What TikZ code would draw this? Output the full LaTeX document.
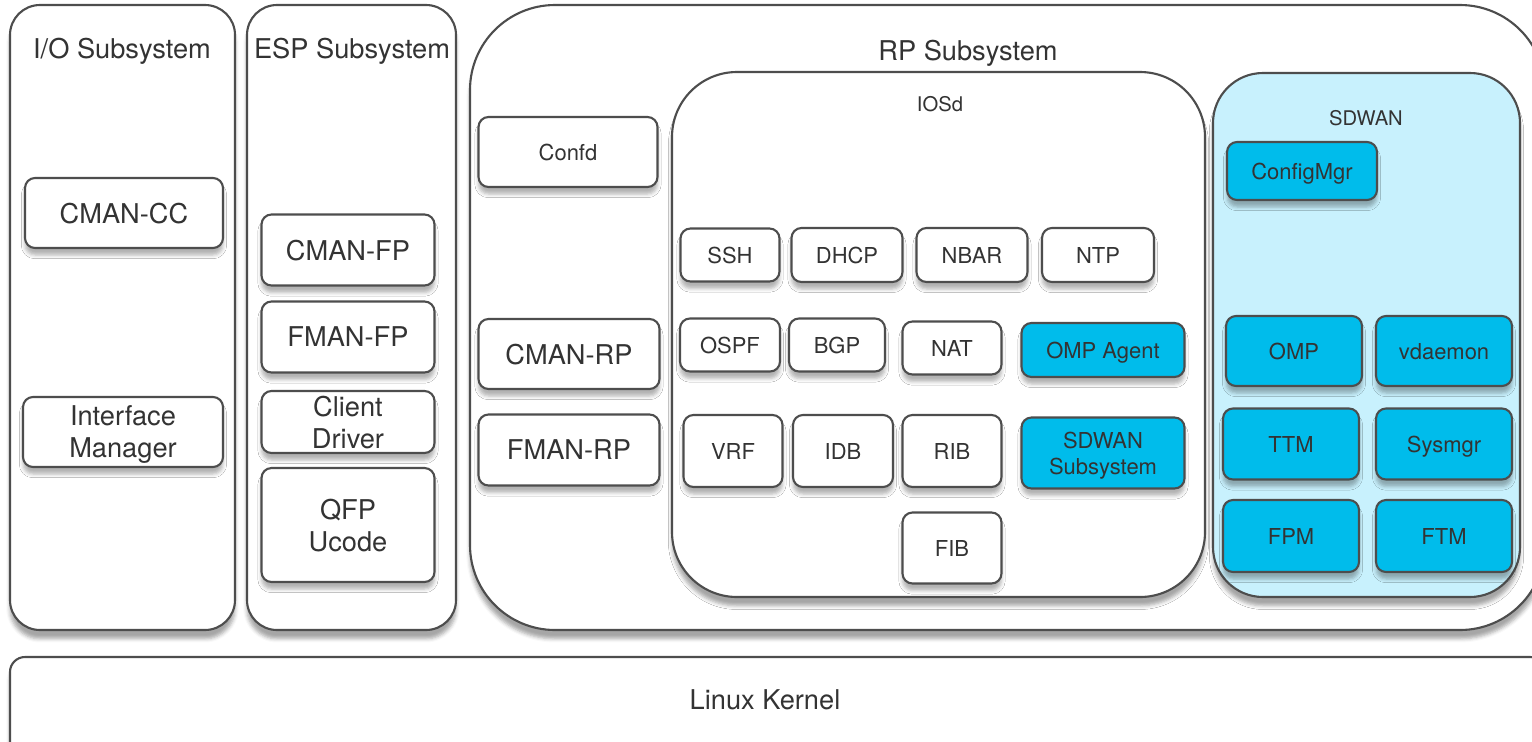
\documentclass[tikz,border=0pt]{standalone}
\usepackage{fontspec}
\setmainfont{TeX Gyre Heros}
\usetikzlibrary{shadows.blur}

\definecolor{edge}{HTML}{4D4D4D}
\definecolor{ink}{HTML}{333333}
\definecolor{ciscoblue}{HTML}{00BCEB}
\definecolor{paleblue}{HTML}{C8F1FD}

\begin{document}
\begin{tikzpicture}[x=0.02cm, y=-0.02cm,
    subsys/.style={draw=edge, line width=1.2pt, fill=white,
        blur shadow={shadow xshift=0pt, shadow yshift=-5pt, shadow opacity=35}},
    blk/.style={draw=edge, line width=1.2pt, fill=white, rounded corners=0.2cm,
        inner sep=0pt, align=center, text=ink, text depth=0pt,
        font=\fontsize{15.5}{18.2}\selectfont,
        blur shadow={shadow xshift=0pt, shadow yshift=-4pt, shadow opacity=30}},
    blksmall/.style={blk, font=\fontsize{12.5}{14.8}\selectfont},
    blkblue/.style={blksmall, fill=ciscoblue},
    wh/.style 2 args={minimum width=#1cm, minimum height=#2cm},
    headline/.style={text=ink, text depth=0pt, font=\fontsize{15.5}{18}\selectfont},
    grouphead/.style={text=ink, text depth=0pt, font=\fontsize{11.5}{14}\selectfont}]

    \useasboundingbox (0,0) rectangle (1532,741);

    % I/O subsystem
    \draw[subsys, rounded corners=0.6cm] (10,5) rectangle (235,630);
    \node[headline] (io) at (122,48) {I/O Subsystem};
    \node[blk, wh={3.96}{1.40}] (cmancc) at (124,213) {CMAN-CC};
    \node[blk, wh={4.00}{1.40}] (ifmgr) at (123,432) {Interface\\Manager};

    % ESP subsystem
    \draw[subsys, rounded corners=0.6cm] (247,5) rectangle (456,630);
    \node[headline] (esp) at (352,48) {ESP Subsystem};
    \node[blk, wh={3.46}{1.42}] (cmanfp) at (348,250) {CMAN-FP};
    \node[blk, wh={3.46}{1.42}] (fmanfp) at (348,337) {FMAN-FP};
    \node[blk, wh={3.46}{1.24}] (clientdrv) at (348,422) {Client\\Driver};
    \node[blk, wh={3.46}{2.28}] (qfp) at (348,525) {QFP\\Ucode};

    % RP subsystem
    \draw[subsys, rounded corners=1.7cm] (470,5) rectangle (1545,630);
    \node[headline] (rp) at (968,50) {RP Subsystem};
    \node[blksmall, wh={3.58}{1.40}] (confd) at (568,152) {Confd};
    \node[blk, wh={3.62}{1.40}] (cmanrp) at (569,354) {CMAN-RP};
    \node[blk, wh={3.62}{1.42}] (fmanrp) at (569,450) {FMAN-RP};

    % IOSd
    \draw[subsys, rounded corners=1.3cm] (672,72) rectangle (1205,597);
    \node[grouphead] (iosd) at (940,104) {IOSd};
    \node[blksmall, wh={1.98}{1.06}] (ssh) at (730,255) {SSH};
    \node[blksmall, wh={2.22}{1.08}] (dhcp) at (847,255) {DHCP};
    \node[blksmall, wh={2.22}{1.08}] (nbar) at (972,255) {NBAR};
    \node[blksmall, wh={2.24}{1.08}] (ntp) at (1098,255) {NTP};
    \node[blksmall, wh={2.00}{1.06}] (ospf) at (730,345) {OSPF};
    \node[blksmall, wh={1.92}{1.06}] (bgp) at (837,345) {BGP};
    \node[blksmall, wh={1.98}{1.06}] (nat) at (952,348) {NAT};
    \node[blkblue, wh={3.26}{1.08}] (ompagent) at (1103,350) {OMP Agent};
    \node[blksmall, wh={1.98}{1.44}] (vrf) at (733,451) {VRF};
    \node[blksmall, wh={2.00}{1.44}] (idb) at (843,451) {IDB};
    \node[blksmall, wh={1.98}{1.44}] (rib) at (952,451) {RIB};
    \node[blkblue, wh={3.26}{1.42}] (sdwansub) at (1103,453) {SDWAN\\Subsystem};
    \node[blksmall, wh={1.98}{1.42}] (fib) at (952,548) {FIB};

    % SDWAN
    \draw[subsys, fill=paleblue, rounded corners=1.0cm] (1213,73) rectangle (1520,597);
    \node[grouphead] (sdwan) at (1366,118) {SDWAN};
    \node[blkblue, wh={3.00}{1.16}] (configmgr) at (1302,171) {ConfigMgr};
    \node[blkblue, wh={2.72}{1.40}] (omp) at (1294,351) {OMP};
    \node[blkblue, wh={2.72}{1.40}] (vdaemon) at (1444,351) {vdaemon};
    \node[blkblue, wh={2.72}{1.42}] (ttm) at (1291,444) {TTM};
    \node[blkblue, wh={2.72}{1.42}] (sysmgr) at (1444,444) {Sysmgr};
    \node[blkblue, wh={2.72}{1.44}] (fpm) at (1291,536) {FPM};
    \node[blkblue, wh={2.72}{1.44}] (ftm) at (1444,536) {FTM};

    % Linux kernel
    \draw[subsys, rounded corners=0.3cm] (10,657) rectangle (1545,760);
    \node[headline] (kernel) at (765,700) {Linux Kernel};

\end{tikzpicture}
\end{document}
